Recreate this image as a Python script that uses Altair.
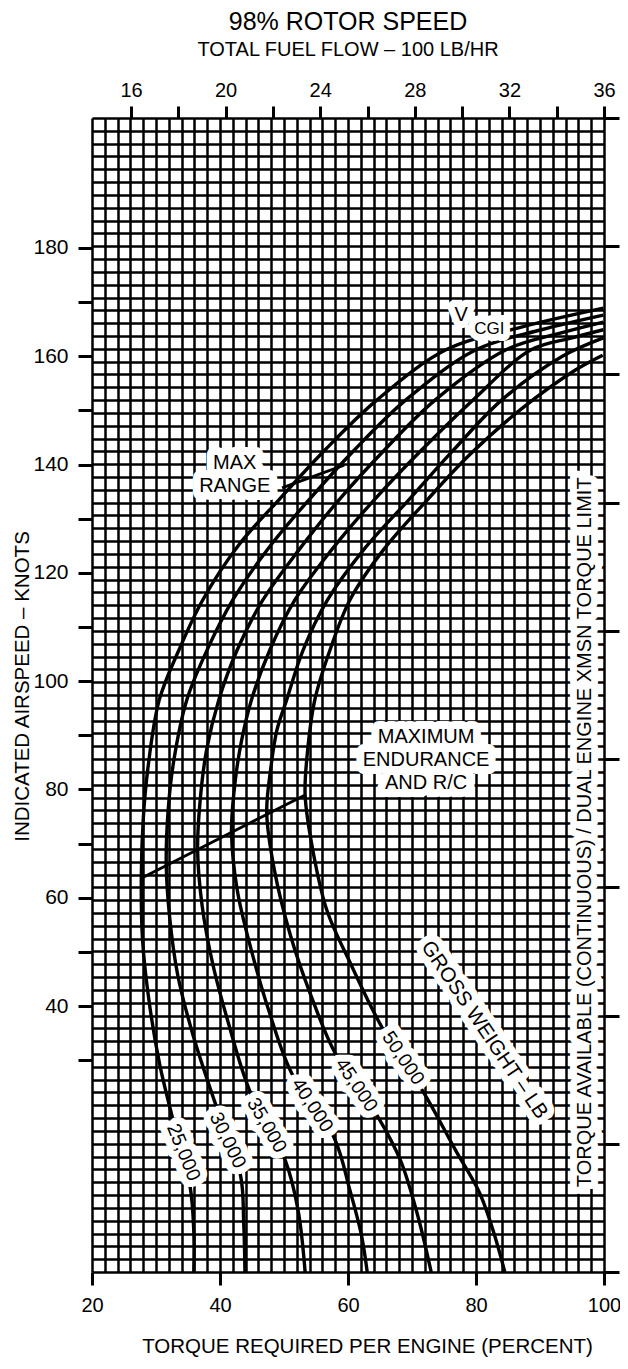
import altair as alt
import pandas as pd

# ---------------- data (torque % per engine, indicated airspeed kt) ----------------
WEIGHTS = ["25,000", "30,000", "35,000", "40,000", "45,000", "50,000"]

GW25_TORQUE = [35.9, 35.9, 35.3, 32.4, 30.6, 29.0, 27.9, 27.7, 28.0, 28.7, 30.5, 33.6, 37.3, 42.9, 49.2, 56.4, 64.5, 75.3, 87.1, 99.9]
GW25_IAS = [-9.1, -1.4, 6.9, 20.2, 29.1, 40.2, 52.2, 63.6, 74.4, 83.6, 96.5, 105.8, 115.0, 125.1, 133.5, 142.7, 151.9, 161.2, 165.4, 168.9]

GW30_TORQUE = [43.9, 43.7, 43.2, 39.1, 35.7, 33.4, 32.1, 31.6, 31.9, 32.8, 34.8, 38.0, 42.0, 47.6, 53.9, 61.0, 69.0, 80.0, 90.2, 99.9]
GW30_IAS = [-9.1, 0.1, 8.8, 22.6, 35.0, 45.7, 56.8, 66.1, 76.2, 85.5, 96.5, 105.8, 115.0, 124.6, 133.5, 142.7, 151.9, 161.2, 164.9, 167.6]

GW35_TORQUE = [53.3, 52.2, 50.2, 44.6, 41.4, 38.9, 37.2, 36.5, 36.9, 37.9, 39.8, 42.7, 46.7, 52.3, 58.6, 65.7, 73.6, 84.7, 93.3, 99.9]
GW35_IAS = [-9.1, 2.3, 11.5, 24.5, 36.5, 47.6, 58.6, 69.0, 78.0, 87.3, 96.5, 105.8, 115.0, 124.2, 133.5, 142.7, 151.9, 161.2, 164.3, 166.3]

GW40_TORQUE = [63.0, 62.1, 60.3, 57.8, 51.2, 47.7, 44.9, 42.7, 41.8, 42.4, 43.4, 44.9, 47.8, 51.7, 57.4, 64.1, 71.5, 79.5, 88.6, 95.0, 99.9]
GW40_IAS = [-9.1, -2.3, 6.0, 15.8, 27.6, 38.9, 50.3, 61.4, 72.2, 81.8, 89.2, 96.5, 105.8, 115.0, 124.2, 133.5, 142.7, 151.9, 161.2, 163.4, 164.9]

GW45_TORQUE = [73.0, 70.9, 68.2, 64.7, 58.0, 54.2, 51.0, 48.5, 47.3, 47.9, 48.9, 50.4, 53.0, 56.8, 62.4, 69.5, 76.5, 84.0, 93.5, 99.9]
GW45_IAS = [-9.1, 1.3, 11.5, 19.5, 31.3, 42.0, 53.1, 65.1, 75.7, 83.6, 91.0, 96.5, 105.8, 115.0, 124.2, 133.5, 142.7, 151.9, 160.0, 163.4]

GW50_TORQUE = [84.5, 82.9, 80.6, 76.8, 71.9, 65.3, 60.5, 56.7, 54.5, 53.3, 53.7, 54.8, 57.2, 60.3, 65.5, 72.4, 79.0, 86.9, 95.6, 99.8]
GW50_IAS = [-9.1, -2.3, 5.4, 13.4, 23.9, 36.1, 47.6, 57.7, 68.8, 79.0, 87.3, 96.5, 105.8, 115.0, 124.2, 133.5, 141.8, 150.1, 157.5, 160.2]

MAX_END_TORQUE = [27.7, 53.3]
MAX_END_IAS = [63.6, 79.0]
MAX_RANGE_TORQUE = [49.7, 59.4]
MAX_RANGE_IAS = [135.7, 139.9]

CURVE_LABEL_TORQUE = [34.3, 41.2, 47.3, 54.4, 61.3, 68.6]
CURVE_LABEL_IAS = [13.0, 15.2, 18.0, 21.7, 25.4, 30.4]

NOTE_TEXT = ["MAX\nRANGE", "MAXIMUM\nENDURANCE\nAND R/C"]
NOTE_TORQUE = [42.3, 72.2]
NOTE_IAS = [140.3, 89.7]

GROSS_TEXT = "GROSS WEIGHT \u2013 LB"
GROSS_TORQUE, GROSS_IAS = 81.3, 35.6
LIMIT_TEXT = "TORQUE AVAILABLE (CONTINUOUS) / DUAL ENGINE XMSN TORQUE LIMIT"
LIMIT_TORQUE, LIMIT_IAS = 97.0, 72.1
VCGI_TORQUE, VCGI_IAS = 77.7, 167.6
CGI_TORQUE, CGI_IAS = 82.1, 165.0

IAS_TICKS = list(range(30, 181, 10))
TORQUE_GRID = list(range(20, 101, 2))
FUEL_FLOW_TICKS = list(range(16, 37, 2))
RIGHT_GRID = list(range(0, 91))

# ---------------- styling ----------------
FONT = "Liberation Sans"
LABEL_ANGLES = [68, 64, 60, 57, 56, 56]
INK = "black"
GRID_W = 2.5

series = [GW25_TORQUE, GW30_TORQUE, GW35_TORQUE, GW40_TORQUE, GW45_TORQUE, GW50_TORQUE]
series_ias = [GW25_IAS, GW30_IAS, GW35_IAS, GW40_IAS, GW45_IAS, GW50_IAS]
rows = []
for w, ts, vs in zip(WEIGHTS, series, series_ias):
    for i, (t, v) in enumerate(zip(ts, vs)):
        rows.append({"weight": w, "i": i, "torque": t, "ias": v})
curves_df = pd.DataFrame(rows)

guide_rows = []
for name, ts, vs in [("end", MAX_END_TORQUE, MAX_END_IAS), ("range", MAX_RANGE_TORQUE, MAX_RANGE_IAS)]:
    for i, (t, v) in enumerate(zip(ts, vs)):
        guide_rows.append({"name": name, "i": i, "torque": t, "ias": v})
guides_df = pd.DataFrame(guide_rows)

labels_df = pd.DataFrame({"text": WEIGHTS, "torque": CURVE_LABEL_TORQUE,
                          "ias": CURVE_LABEL_IAS, "angle": LABEL_ANGLES})
gross_df = pd.DataFrame({"text": [GROSS_TEXT], "torque": [GROSS_TORQUE], "ias": [GROSS_IAS], "angle": [56]})
limit_df = pd.DataFrame({"text": [LIMIT_TEXT], "torque": [LIMIT_TORQUE], "ias": [LIMIT_IAS], "angle": [270]})
notes_df = pd.DataFrame({"text": NOTE_TEXT, "torque": NOTE_TORQUE, "ias": NOTE_IAS})
v_df = pd.DataFrame({"text": ["V"], "torque": [VCGI_TORQUE], "ias": [VCGI_IAS]})
cgi_df = pd.DataFrame({"text": ["CGI"], "torque": [CGI_TORQUE], "ias": [CGI_IAS]})

X = alt.X(
    "torque:Q",
    scale=alt.Scale(domain=[20, 100], nice=False, zero=False),
    axis=alt.Axis(
        orient="bottom", values=TORQUE_GRID, grid=True, gridColor=INK, gridWidth=GRID_W, gridOpacity=1,
        tickOpacity={"condition": {"test": "datum.value % 20 === 0", "value": 1}, "value": 0},
        labelExpr="datum.value % 20 === 0 ? datum.label : ''",
        tickSize=13, tickWidth=3, tickColor=INK, domain=False,
        labelFontSize=20, labelPadding=10, labelColor=INK, labelFont=FONT,
        labelOverlap=False, labelFlush=False,
        title="TORQUE REQUIRED PER ENGINE (PERCENT)", titleFontSize=20.5, titleFontWeight="normal",
        titlePadding=21, titleColor=INK, titleFont=FONT, titleX=275,
    ),
)
Y = alt.Y(
    "ias:Q",
    scale=alt.Scale(domain=[-9.1, 204.0], nice=False, zero=False),
    axis=alt.Axis(
        orient="left", values=IAS_TICKS, grid=False,
        labelExpr="datum.value % 20 === 0 ? datum.label : ''",
        tickSize=14, tickWidth=3, tickColor=INK, domain=False,
        labelFontSize=21, labelPadding=10, labelColor=INK, labelFont=FONT,
        labelOverlap=False, labelFlush=False,
        title="INDICATED AIRSPEED \u2013 KNOTS", titleFontSize=20.5, titleFontWeight="normal",
        titlePadding=0, titleColor=INK, titleFont=FONT, titleY=568,
    ),
)

curves = alt.Chart(curves_df).mark_line(
    color=INK, strokeWidth=3.4, interpolate="catmull-rom", clip=True
).encode(x=X, y=Y, detail="weight:N", order="i:Q")

guides = alt.Chart(guides_df).mark_line(color=INK, strokeWidth=2.8, clip=True).encode(
    x=X, y=Y, detail="name:N", order="i:Q")


def text_pair(df, size, angle_field=True, halo=14, **kw):
    enc = dict(x=X, y=Y, text="text:N")
    if angle_field:
        enc["angle"] = alt.Angle("angle:Q", scale=None)
    back = alt.Chart(df).mark_text(
        font=FONT, fontSize=size, color="white", stroke="white", strokeWidth=halo,
        strokeJoin="round", align="center", baseline="middle", **kw
    ).encode(**enc)
    ink = alt.Chart(df).mark_text(
        font=FONT, fontSize=size, color=INK, align="center", baseline="middle", **kw
    ).encode(**enc)
    return [back, ink]


layers = [curves, guides]
layers += text_pair(labels_df, 19.5)
layers += text_pair(gross_df, 20.5)
layers += text_pair(limit_df, 20)
layers += text_pair(notes_df, 20, angle_field=False, halo=16, lineBreak="\n", lineHeight=23)
layers += text_pair(v_df, 20, angle_field=False)
layers += text_pair(cgi_df, 17, angle_field=False)
main = alt.layer(*layers)

right_grid = alt.Chart(pd.DataFrame({"g": [0, 90]})).mark_point(opacity=0).encode(
    y=alt.Y(
        "g:Q",
        scale=alt.Scale(domain=[0, 90], nice=False, zero=False),
        axis=alt.Axis(
            orient="right", values=RIGHT_GRID, grid=True, gridColor=INK, gridWidth=GRID_W, gridOpacity=1,
            tickOpacity={"condition": {"test": "datum.value % 10 === 0", "value": 1}, "value": 0},
            tickSize=15, tickWidth=3, tickColor=INK, labels=False, domain=False, title="",
        ),
    )
)

top_axis = alt.Chart(pd.DataFrame({"fuel": FUEL_FLOW_TICKS})).mark_point(opacity=0).encode(
    x=alt.X(
        "fuel:Q",
        scale=alt.Scale(domain=[14.35, 36.0], nice=False, zero=False),
        axis=alt.Axis(
            orient="top", values=FUEL_FLOW_TICKS, grid=False,
            labelExpr="datum.value % 4 === 0 ? datum.label : ''",
            tickSize=12, tickWidth=3, tickColor=INK, domain=False,
            labelFontSize=20, labelPadding=6, labelColor=INK, labelFont=FONT,
            labelOverlap=False, labelFlush=False, title="",
        ),
    )
)

chart = alt.layer(right_grid, main, top_axis).resolve_scale(
    x="independent", y="independent"
).properties(
    width=512,
    height=1154,
    autosize=alt.AutoSizeParams(type="none"),
    padding={"left": 84, "top": 110, "right": 16, "bottom": 89},
    title=alt.TitleParams(
        text="98% ROTOR SPEED", subtitle="TOTAL FUEL FLOW \u2013 100 LB/HR",
        font=FONT, fontSize=25, fontWeight="normal", color=INK,
        subtitleFont=FONT, subtitleFontSize=20, subtitleColor=INK, subtitlePadding=5,
        anchor="middle", frame="group", offset=20,
    ),
).configure_view(stroke=INK, strokeWidth=3.5).configure(font=FONT, background="white")

chart.save("out.html", embed_options={"renderer": "svg", "actions": False})
